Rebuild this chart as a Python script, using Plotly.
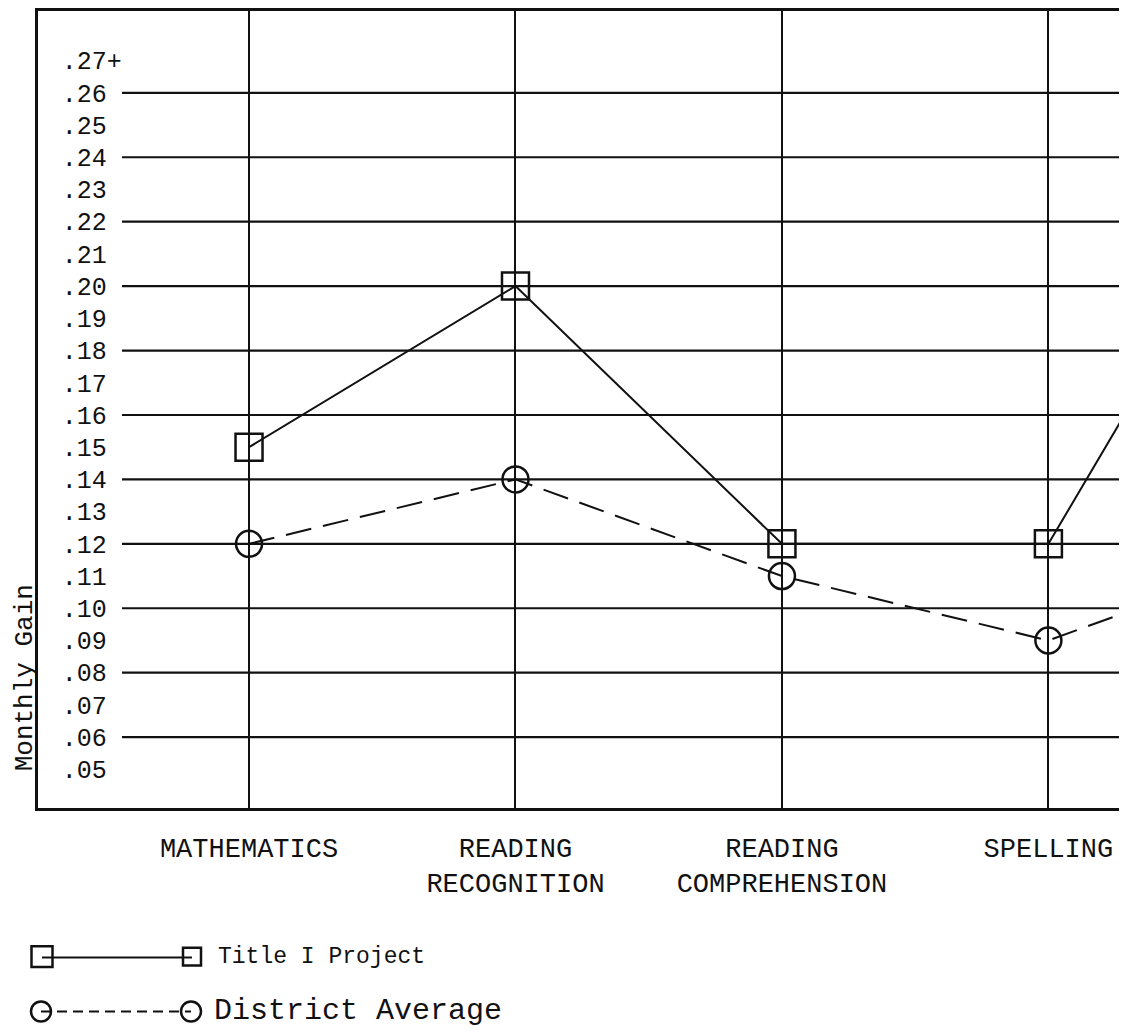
import plotly.graph_objects as go

# ---- data ----
categories = ["MATHEMATICS", "READING<br>RECOGNITION", "READING<br>COMPREHENSION", "SPELLING", ""]
title_i = [0.15, 0.20, 0.12, 0.12, 0.26]
district = [0.12, 0.14, 0.11, 0.09, 0.12]
ytick_vals = [0.05, 0.06, 0.07, 0.08, 0.09, 0.10, 0.11, 0.12, 0.13, 0.14, 0.15, 0.16,
              0.17, 0.18, 0.19, 0.20, 0.21, 0.22, 0.23, 0.24, 0.25, 0.26, 0.27]
ytick_text = [".05", ".06", ".07", ".08", ".09", ".10", ".11", ".12", ".13", ".14", ".15", ".16",
              ".17", ".18", ".19", ".20", ".21", ".22", ".23", ".24", ".25", ".26", ".27+"]
grid_vals = [0.06, 0.08, 0.10, 0.12, 0.14, 0.16, 0.18, 0.20, 0.22, 0.24, 0.26]

# page body adds an 8px margin; lay the figure out in page pixels minus that offset
OFF = 8
W, H = 1127 - OFF, 1036 - OFF
ML, MR, MT, MB = 38 - OFF, 0, 9 - OFF, 1036 - 808
PW, PH = W - ML - MR, H - MT - MB
FONT = "Liberation Mono, DejaVu Sans Mono, monospace"
INK = "#111111"

def px(x):
    return (x - OFF - ML) / PW

def py(y):
    return (H - MB - (y - OFF)) / PH

xpos = list(range(len(categories)))

fig = go.Figure()
fig.add_trace(go.Scatter(
    x=xpos, y=title_i, mode="lines+markers", name="Title I Project",
    line=dict(color=INK, width=2),
    marker=dict(symbol="square-open", size=27, color=INK, line=dict(width=2.5)),
    showlegend=False))
fig.add_trace(go.Scatter(
    x=xpos, y=district, mode="lines+markers", name="District Average",
    line=dict(color=INK, width=2, dash="26px,12px"),
    marker=dict(symbol="circle-open", size=26, color=INK, line=dict(width=2.5)),
    showlegend=False))

shapes = []
for v in grid_vals:
    shapes.append(dict(type="line", xref="paper", yref="y", x0=px(122), x1=1, y0=v, y1=v,
                       line=dict(color=INK, width=2.2), layer="below"))

# legend (drawn manually)
def sq(cx, cy, s):
    return dict(type="rect", xref="paper", yref="paper",
                x0=px(cx - s / 2), x1=px(cx + s / 2), y0=py(cy + s / 2), y1=py(cy - s / 2),
                line=dict(color=INK, width=2.5), fillcolor="rgba(0,0,0,0)")

def circ(cx, cy, s):
    return dict(type="circle", xref="paper", yref="paper",
                x0=px(cx - s / 2), x1=px(cx + s / 2), y0=py(cy + s / 2), y1=py(cy - s / 2),
                line=dict(color=INK, width=2.5), fillcolor="rgba(0,0,0,0)")

shapes += [
    sq(42, 957, 21), sq(192, 957, 18),
    dict(type="line", xref="paper", yref="paper", x0=px(42), x1=px(192), y0=py(958), y1=py(958),
         line=dict(color=INK, width=2)),
    circ(41, 1012, 20), circ(191, 1012, 20),
    dict(type="line", xref="paper", yref="paper", x0=px(41), x1=px(191), y0=py(1012), y1=py(1012),
         line=dict(color=INK, width=2, dash="10px,6px")),
]

annotations = [
    dict(text="Title I Project", xref="paper", yref="paper", x=px(216), y=py(957),
         xanchor="left", yanchor="middle", showarrow=False,
         font=dict(family=FONT, size=23, color=INK)),
    dict(text="District Average", xref="paper", yref="paper", x=px(212), y=py(1012),
         xanchor="left", yanchor="middle", showarrow=False,
         font=dict(family=FONT, size=30, color=INK)),
    dict(text="Monthly Gain", xref="paper", yref="paper", x=px(25), y=py(678),
         xanchor="center", yanchor="middle", textangle=-90, showarrow=False,
         font=dict(family=FONT, size=26, color=INK)),
]

fig.update_layout(
    width=W, height=H,
    margin=dict(l=ML, r=MR, t=MT, b=MB, pad=0),
    paper_bgcolor="white", plot_bgcolor="white",
    shapes=shapes, annotations=annotations,
    xaxis=dict(range=[-0.792, 3.295], tickvals=xpos, ticktext=categories,
               showgrid=True, gridcolor=INK, gridwidth=2, zeroline=False,
               showline=True, mirror=True, linecolor=INK, linewidth=2.5,
               ticks="", ticklabelstandoff=14,
               tickfont=dict(family=FONT, size=27, color=INK)),
    yaxis=dict(range=[0.038, 0.2854], tickvals=ytick_vals, ticktext=ytick_text,
               showgrid=False, zeroline=False,
               showline=True, mirror=False, linecolor=INK, linewidth=2.5,
               ticks="", ticklabelposition="inside", ticklabelstandoff=26,
               tickfont=dict(family=FONT, size=25, color=INK)),
)

fig.write_html("out.html")
